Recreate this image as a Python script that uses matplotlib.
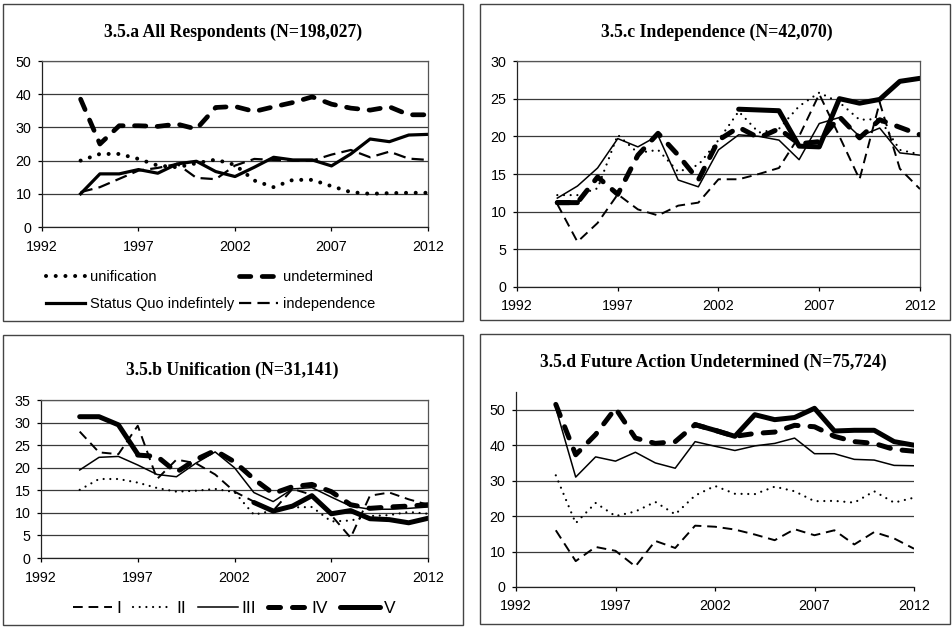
import matplotlib
matplotlib.use('Agg')
import matplotlib.pyplot as plt
from matplotlib.patches import Rectangle
import numpy as np

nan = np.nan

# survey years
years = [1994, 1995, 1996, 1997, 1998, 1999, 2000, 2001, 2002, 2003,
         2004, 2005, 2006, 2007, 2008, 2009, 2010, 2011, 2012]

# 3.5.a All Respondents
unif_a = [20.0, 22.0, 22.0, 20.5, 18.5, 18.0, 19.2, 20.3, 18.7, 14.0,
          12.0, 14.2, 14.2, 12.3, 10.5, 10.0, 10.2, 10.3, 10.3]
undet_a = [38.5, 25.0, 30.5, 30.5, 30.3, 31.0, 29.5, 36.0, 36.3, 34.8,
           36.2, 37.5, 39.2, 37.0, 35.8, 35.2, 36.2, 33.8, 33.8]
status_a = [10.0, 16.0, 16.0, 17.3, 16.2, 19.0, 19.8, 16.7, 15.2, 18.0,
            21.0, 20.2, 20.2, 18.4, 22.0, 26.5, 25.7, 27.7, 27.9]
indep_a = [10.5, 12.0, 14.5, 17.0, 17.8, 19.0, 14.8, 14.4, 18.5, 20.5,
           20.2, 20.0, 20.0, 21.8, 23.2, 21.0, 22.7, 20.6, 20.2]

# 3.5.b Unification
I_b = [28.0, 23.4, 23.0, 29.3, 17.5, 21.8, 21.0, 18.5, 14.7, 12.5,
       10.5, 15.3, 14.0, 9.5, 4.5, 13.8, 14.5, 13.0, 11.8]
II_b = [15.1, 17.5, 17.5, 16.7, 15.5, 14.7, 14.9, 15.3, 14.6, 9.6,
        10.5, 11.2, 11.3, 8.1, 8.3, 9.3, 9.5, 10.2, 9.8]
III_b = [19.5, 22.3, 22.5, 20.6, 18.5, 18.0, 21.0, 23.5, 20.0, 14.5,
         12.5, 15.3, 15.6, 13.5, 11.5, 10.8, 10.8, 11.0, 11.3]
IV_b = [nan, nan, nan, 22.8, 22.5, 19.0, 21.8, 23.8, 21.3, 17.5,
        14.3, 15.8, 16.3, 14.7, 11.8, 11.0, 11.3, 11.5, 11.8]
V_b = [31.3, 31.3, 29.5, 23.0, nan, nan, nan, nan, nan, 12.3,
       10.4, 11.5, 13.8, 9.8, 10.5, 8.7, 8.5, 7.8, 8.8]

# 3.5.c Independence
I_c = [11.0, 6.0, 8.5, 12.3, 10.3, 9.5, 10.8, 11.2, 14.3, 14.3,
       15.0, 15.8, 20.0, 25.6, 20.0, 14.3, 24.5, 15.7, 13.0]
II_c = [12.2, 12.2, 13.1, 20.2, 17.8, 18.2, 15.3, 16.2, 19.5, 23.3,
        20.5, 21.0, 24.0, 25.8, 24.5, 22.2, 22.3, 18.2, 17.6]
III_c = [11.8, 13.4, 15.8, 19.7, 18.6, 20.1, 14.2, 13.3, 18.2, 20.2,
         20.0, 19.5, 16.9, 21.7, 22.5, 20.0, 21.1, 17.8, 17.5]
IV_c = [11.2, 11.2, 14.6, 12.3, 17.5, 20.4, 17.5, 14.2, 19.5, 21.2,
        19.8, 21.0, 19.0, 19.3, 22.6, 19.8, 22.2, 21.2, 20.2]
V_c = [11.2, 11.2, nan, nan, nan, nan, nan, nan, nan, 23.6,
       23.5, 23.4, 18.7, 18.6, 25.0, 24.4, 24.9, 27.3, 27.7]

# 3.5.d Future Action Undetermined
I_d = [16.0, 7.3, 11.3, 10.2, 5.8, 13.0, 11.0, 17.3, 17.0, 16.2,
       14.8, 13.2, 16.3, 14.6, 16.0, 12.0, 15.5, 13.7, 10.8]
II_d = [31.5, 18.0, 23.7, 20.0, 21.3, 24.0, 20.5, 25.8, 28.5, 26.3,
        26.2, 28.3, 27.0, 24.2, 24.3, 23.8, 27.0, 23.8, 25.2]
III_d = [50.5, 31.0, 36.7, 35.5, 38.0, 35.0, 33.5, 41.0, 39.7, 38.5,
         39.8, 40.5, 42.0, 37.6, 37.6, 36.0, 35.8, 34.3, 34.2]
IV_d = [51.5, 37.3, 43.0, 50.4, 42.0, 40.5, 41.0, 45.8, 44.2, 42.5,
        43.3, 43.7, 45.6, 45.2, 42.5, 41.0, 40.5, 38.8, 38.3]
V_d = [nan, nan, nan, nan, nan, nan, nan, 45.8, 44.2, 42.5,
       48.6, 47.2, 47.8, 50.4, 44.0, 44.2, 44.2, 41.0, 40.0]

group_labels = ['I', 'II', 'III', 'IV', 'V']
x_ticks = [1992, 1997, 2002, 2007, 2012]

W, H = 953, 627

# line styles
ST_DOT_A = dict(color='black', lw=2.9, linestyle=(0, (0.01, 2.4)), dash_capstyle='round')
ST_THICKDASH = dict(color='black', lw=3.4, linestyle=(0, (2.4, 2.4)), dash_capstyle='round')
ST_SOLID_A = dict(color='black', lw=2.3, solid_joinstyle='round')
ST_DASH_A = dict(color='black', lw=1.6, linestyle=(0, (5.5, 2.8)))

ST_I = dict(color='black', lw=1.4, linestyle=(0, (5.0, 3.0)))
ST_II = dict(color='black', lw=1.6, linestyle=(0, (0.01, 3.0)), dash_capstyle='round')
ST_III = dict(color='black', lw=1.1)
ST_IV = dict(color='black', lw=3.6, linestyle=(0, (2.4, 2.4)), dash_capstyle='round')
ST_V = dict(color='black', lw=3.6, solid_capstyle='round', solid_joinstyle='round')
GROUP_STYLES = [ST_I, ST_II, ST_III, ST_IV, ST_V]

plt.rcParams['font.family'] = ['Liberation Sans', 'DejaVu Sans']

fig = plt.figure(figsize=(W / 100, H / 100), dpi=100)


def px_rect(left, top, right, bottom):
    return [left / W, 1 - bottom / H, (right - left) / W, (bottom - top) / H]


def panel_box(left, top, right, bottom):
    rect = Rectangle((left / W, 1 - bottom / H), (right - left) / W, (bottom - top) / H,
                     transform=fig.transFigure, fill=False, ec='#444444', lw=1.0)
    fig.add_artist(rect)


def title(x, y, text):
    fig.text(x / W, 1 - y / H, text, ha='center', va='center',
             family='Liberation Serif', weight='bold', fontsize=12.7)


def style_axes(ax, ymax, ystep, frame=True):
    ax.set_xlim(1992, 2012)
    ax.set_ylim(0, ymax)
    ax.set_xticks(x_ticks)
    ax.set_yticks(np.arange(0, ymax + 0.1, ystep))
    ax.grid(axis='y', color='#3a3a3a', lw=0.9)
    ax.set_axisbelow(True)
    ax.tick_params(axis='both', labelsize=10.3, length=3, width=0.9, direction='out',
                   colors='black')
    ax.tick_params(axis='x', pad=6)
    ax.tick_params(axis='y', pad=4.5)
    for s in ['left', 'bottom']:
        ax.spines[s].set_color('#222222')
        ax.spines[s].set_linewidth(0.9)
    for s in ['top', 'right']:
        ax.spines[s].set_visible(frame)
        ax.spines[s].set_color('#555555')
        ax.spines[s].set_linewidth(0.9)


# panel frames
panel_box(3, 4, 463, 321)
panel_box(480, 4, 950, 320)
panel_box(3, 335, 463, 625)
panel_box(480, 334, 950, 624)

# --- 3.5.a ---
ax_a = fig.add_axes(px_rect(42, 61, 428, 227))
style_axes(ax_a, 50, 10)
h_unif, = ax_a.plot(years, unif_a, label='unification', **ST_DOT_A)
h_undet, = ax_a.plot(years, undet_a, label='undetermined', **ST_THICKDASH)
h_stat, = ax_a.plot(years, status_a, label='Status Quo indefintely', **ST_SOLID_A)
h_ind, = ax_a.plot(years, indep_a, label='independence', **ST_DASH_A)
ax_a.legend(handles=[h_unif, h_stat, h_undet, h_ind], ncol=2, loc='upper left',
            bbox_to_anchor=(46 / W, 1 - 270 / H), bbox_transform=fig.transFigure,
            frameon=False, fontsize=10.5, handlelength=2.7, handletextpad=0.3,
            columnspacing=0.35, labelspacing=0.9, borderpad=0, borderaxespad=0)
title(233, 32, '3.5.a All Respondents (N=198,027)')

# --- 3.5.c ---
ax_c = fig.add_axes(px_rect(517, 61, 920, 287))
style_axes(ax_c, 30, 5)
for vals, st in zip([I_c, II_c, III_c, IV_c, V_c], GROUP_STYLES):
    ax_c.plot(years, vals, **st)
title(717, 32, '3.5.c Independence (N=42,070)')

# --- 3.5.b ---
ax_b = fig.add_axes(px_rect(41, 400, 428, 558))
style_axes(ax_b, 35, 5)
handles_b = []
for vals, st, lab in zip([I_b, II_b, III_b, IV_b, V_b], GROUP_STYLES, group_labels):
    h, = ax_b.plot(years, vals, label=lab, **st)
    handles_b.append(h)
ax_b.legend(handles=handles_b, ncol=5, loc='center',
            bbox_to_anchor=(234 / W, 1 - 608 / H), bbox_transform=fig.transFigure,
            frameon=False, fontsize=12.5, handlelength=2.3, handletextpad=0.2,
            columnspacing=0.7, borderpad=0, borderaxespad=0)
title(232, 370, '3.5.b Unification (N=31,141)')

# --- 3.5.d ---
ax_d = fig.add_axes(px_rect(516, 392, 914, 587))
style_axes(ax_d, 55, 10, frame=False)
ax_d.set_yticks([0, 10, 20, 30, 40, 50])
for vals, st in zip([I_d, II_d, III_d, IV_d, V_d], GROUP_STYLES):
    ax_d.plot(years, vals, **st)
title(713, 362, '3.5.d Future Action Undetermined (N=75,724)')

fig.savefig('out.png', dpi=100)
